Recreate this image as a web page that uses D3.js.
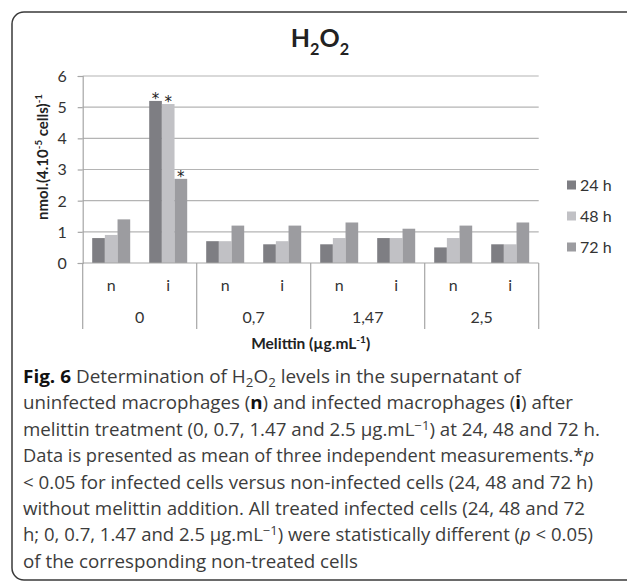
<!DOCTYPE html>
<html>
<head>
<meta charset="utf-8">
<script src="https://cdn.jsdelivr.net/npm/d3@7"></script>
<style>
  html, body { margin: 0; padding: 0; background: #fff; }
  svg { display: block; }
</style>
</head>
<body>
<svg id="chart" width="627" height="582"></svg>
<script>
// ---- data ----
const groups = ["0", "0,7", "1,47", "2,5"];
const subgroups = ["n", "i"];
const series = ["24 h", "48 h", "72 h"];
const values24 = [0.8, 5.2, 0.7, 0.6, 0.6, 0.8, 0.5, 0.6];
const values48 = [0.9, 5.1, 0.7, 0.7, 0.8, 0.8, 0.8, 0.6];
const values72 = [1.4, 2.7, 1.2, 1.2, 1.3, 1.1, 1.2, 1.3];
const significant = [false, true, false, false, false, false, false, false];
const yTicks = [0, 1, 2, 3, 4, 5, 6];
const seriesColors = ["#7e7e83", "#c1c1c5", "#9c9ca0"];

const chartTitle = [["H", 0], ["2", 1], ["O", 0], ["2", 1]];
const yTitle = [["nmol.(4.10", 0], ["-5", 2], [" cells)", 0], ["-1", 2]];
const xTitle = [["Melittin (µg.mL", 0], ["-1", 2], [")", 0]];

// caption lines: [text, style] ; style: n normal, b bold, i italic, sub, sup
const captionLines = [
  [["Fig. 6", "b"], [" Determination of H", "n"], ["2", "sub"], ["O", "n"], ["2", "sub"], [" levels in the supernatant of", "n"]],
  [["uninfected macrophages (", "n"], ["n", "b"], [") and infected macrophages (", "n"], ["i", "b"], [") after", "n"]],
  [["melittin treatment (0, 0.7, 1.47 and 2.5 µg.mL", "n"], ["−1", "sup"], [") at 24, 48 and 72 h.", "n"]],
  [["Data is presented as mean of three independent measurements.*", "n"], ["p", "i"]],
  [["< 0.05 for infected cells versus non-infected cells (24, 48 and 72 h)", "n"]],
  [["without melittin addition. All treated infected cells (24, 48 and 72", "n"]],
  [["h; 0, 0.7, 1.47 and 2.5 µg.mL", "n"], ["−1", "sup"], [") were statistically different (", "n"], ["p", "i"], [" < 0.05)", "n"]],
  [["of the corresponding non-treated cells", "n"]]
];
const captionEnds = [521, 573, 600, 594, 593, 585, 593, 358];

// ---- layout ----
const svg = d3.select("#chart");
const plotLeft = 82.7, plotRight = 538.7, plotTop = 76, plotBottom = 263;
const chartFont = "Lato, 'Open Sans', sans-serif";
const capFont = "'Open Sans', 'Noto Sans', sans-serif";

// frame
svg.append("rect")
  .attr("x", 12).attr("y", 12).attr("width", 700).attr("height", 568)
  .attr("rx", 12).attr("ry", 12)
  .attr("fill", "none").attr("stroke", "#3a3a3a").attr("stroke-width", 1.5);

const cats = [];
groups.forEach(g => subgroups.forEach(s => cats.push(g + "|" + s)));

const x0 = d3.scaleBand().domain(groups).range([plotLeft, plotRight]).padding(0);
const xCat = d3.scaleBand().domain(cats).range([plotLeft, plotRight]).padding(0);
const x1 = d3.scaleBand().domain(series).range([0, xCat.bandwidth()])
  .paddingInner(0).paddingOuter(0.75);
const y = d3.scaleLinear().domain([0, 6]).range([plotBottom, plotTop]);

// gridlines
svg.append("g").selectAll("line").data(yTicks.filter(t => t > 0)).join("line")
  .attr("x1", plotLeft).attr("x2", plotRight)
  .attr("y1", d => y(d)).attr("y2", d => y(d))
  .attr("stroke", "#b4b4b4").attr("stroke-width", 1.2);

// y axis
const yAxis = d3.axisLeft(y).tickValues(yTicks).tickSize(5).tickPadding(11).tickFormat(d3.format("d"));
const gy = svg.append("g").attr("transform", `translate(${plotLeft},0)`).call(yAxis);
gy.select(".domain").attr("stroke", "#a6a6a6").attr("stroke-width", 1.2);
gy.selectAll(".tick line").attr("stroke", "#a6a6a6").attr("stroke-width", 1.2);
gy.selectAll(".tick text").attr("font-family", chartFont).attr("font-size", 16)
  .attr("fill", "#333").attr("dy", "0.34em");

// bars
const seriesVals = [values24, values48, values72];
const barData = [];
cats.forEach((c, i) => series.forEach((s, k) => barData.push({ cat: c, s, k, v: seriesVals[k][i], i })));
svg.append("g").selectAll("rect").data(barData).join("rect")
  .attr("x", d => xCat(d.cat) + x1(d.s))
  .attr("y", d => y(d.v))
  .attr("width", x1.bandwidth())
  .attr("height", d => y(0) - y(d.v))
  .attr("fill", d => seriesColors[d.k]);

// significance asterisks
svg.append("g").selectAll("text").data(barData.filter(d => significant[d.i])).join("text")
  .attr("x", d => xCat(d.cat) + x1(d.s) + x1.bandwidth() / 2)
  .attr("y", d => y(d.v) + 3)
  .attr("text-anchor", "middle")
  .attr("font-family", "'DejaVu Sans', sans-serif").attr("font-size", 15).attr("fill", "#222")
  .text("*");

// x axis line
svg.append("line").attr("x1", plotLeft).attr("x2", plotRight)
  .attr("y1", plotBottom).attr("y2", plotBottom)
  .attr("stroke", "#a6a6a6").attr("stroke-width", 1.2);
// group separators
const seps = groups.map(g => x0(g)).concat([plotRight]);
svg.append("g").selectAll("line").data(seps).join("line")
  .attr("x1", d => d).attr("x2", d => d)
  .attr("y1", plotBottom).attr("y2", 329)
  .attr("stroke", "#a6a6a6").attr("stroke-width", 1.2);

// sub labels
svg.append("g").selectAll("text").data(cats).join("text")
  .attr("x", d => xCat(d) + xCat.bandwidth() / 2)
  .attr("y", 291)
  .attr("text-anchor", "middle")
  .attr("font-family", chartFont).attr("font-size", 16).attr("fill", "#333")
  .text(d => d.split("|")[1]);
// group labels
svg.append("g").selectAll("text").data(groups).join("text")
  .attr("x", d => x0(d) + x0.bandwidth() / 2)
  .attr("y", 323)
  .attr("text-anchor", "middle")
  .attr("font-family", chartFont).attr("font-size", 16).attr("fill", "#333")
  .text(d => d);

function richText(sel, parts, size, bold) {
  parts.forEach(([t, mode], idx) => {
    const prev = idx > 0 ? parts[idx - 1][1] : 0;
    let dy = 0;
    if (prev === 1) dy -= size * 0.3;
    if (prev === 2) dy += size * 0.4;
    if (mode === 1) dy += size * 0.3;
    if (mode === 2) dy -= size * 0.4;
    sel.append("tspan")
      .attr("dy", dy)
      .attr("font-size", mode ? size * 0.65 : size)
      .attr("font-weight", bold ? "bold" : "normal")
      .text(t);
  });
}

// x title
const xt = svg.append("text").attr("x", (plotLeft + plotRight) / 2).attr("y", 349)
  .attr("text-anchor", "middle").attr("font-family", chartFont).attr("fill", "#222");
richText(xt, xTitle, 15.5, true);

// chart title
const tt = svg.append("text").attr("x", 320).attr("y", 47)
  .attr("text-anchor", "middle").attr("font-family", chartFont).attr("fill", "#222");
richText(tt, chartTitle, 25, true);

// y title
const yt = svg.append("text").attr("transform", "translate(48,157) rotate(-90)")
  .attr("text-anchor", "middle").attr("font-family", chartFont).attr("fill", "#222");
richText(yt, yTitle, 15, true);

// legend
const lg = svg.append("g").selectAll("g").data(series).join("g")
  .attr("transform", (d, i) => `translate(567,${185 + i * 31})`);
lg.append("rect").attr("x", 0).attr("y", -4.5).attr("width", 9).attr("height", 9)
  .attr("fill", (d, i) => seriesColors[i]);
lg.append("text").attr("x", 13).attr("y", 0).attr("dy", "0.36em")
  .attr("font-family", chartFont).attr("font-size", 16).attr("fill", "#333")
  .text(d => d);

// caption
const capLeft = 23, capTop = 383, capStep = 26.4, capSize = 17.5;
captionLines.forEach((parts, li) => {
  const t = svg.append("text")
    .attr("x", capLeft).attr("y", capTop + li * capStep)
    .attr("font-family", capFont).attr("font-size", capSize).attr("fill", "#3c3c3c")
    .attr("textLength", captionEnds[li] - capLeft)
    .attr("lengthAdjust", "spacingAndGlyphs");
  parts.forEach(([txt, st], idx) => {
    const prev = idx > 0 ? parts[idx - 1][1] : "n";
    let dy = 0;
    if (prev === "sub") dy -= 4;
    if (prev === "sup") dy += 6;
    if (st === "sub") dy += 4;
    if (st === "sup") dy -= 6;
    const ts = t.append("tspan").attr("dy", dy).text(txt);
    if (st === "b") ts.attr("font-weight", "bold").attr("fill", "#111");
    if (st === "i") ts.attr("font-style", "italic");
    if (st === "sub" || st === "sup") ts.attr("font-size", capSize * 0.7);
  });
});
</script>
</body>
</html>
